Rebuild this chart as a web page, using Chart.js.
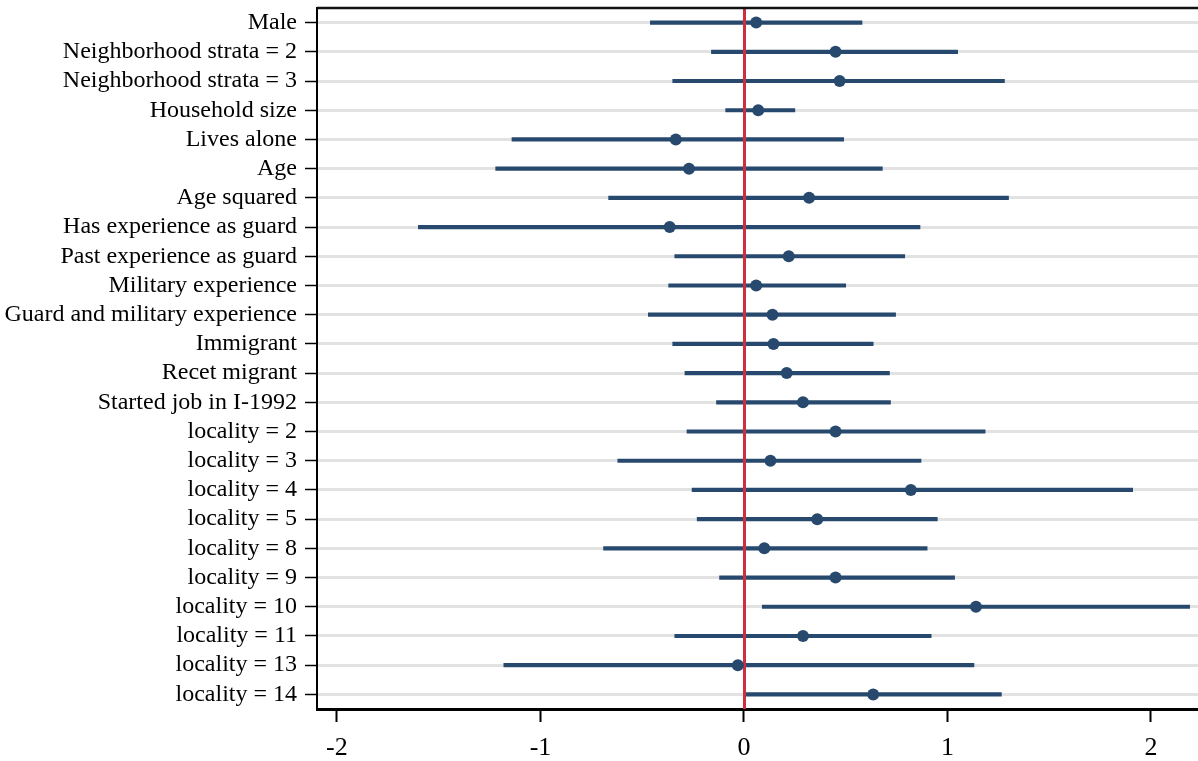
<!DOCTYPE html>
<html>
<head>
<meta charset="utf-8">
<script src="https://cdn.jsdelivr.net/npm/chart.js@4"></script>
<style>
  body { margin: 0; background: #fff; }
  #wrap { width: 1198px; height: 761px; position: relative; }
</style>
</head>
<body>
<div id="wrap"><canvas id="coefChart"></canvas></div>
<script>
// 变量名称
const labels = [
    "Male", "Neighborhood strata = 2", "Neighborhood strata = 3", "Household size",
    "Lives alone", "Age", "Age squared", "Has experience as guard",
    "Past experience as guard", "Military experience", "Guard and military experience",
    "Immigrant", "Recet migrant", "Started job in I-1992",
    "locality = 2", "locality = 3", "locality = 4", "locality = 5", "locality = 8",
    "locality = 9", "locality = 10", "locality = 11", "locality = 13", "locality = 14"
];

// 点估计
const estimates = [
    0.06, 0.45, 0.47, 0.07, -0.335, -0.27, 0.32, -0.365,
    0.22, 0.06, 0.14, 0.145, 0.21, 0.29,
    0.45, 0.13, 0.82, 0.36, 0.10, 0.45, 1.14, 0.29, -0.03, 0.635
];

// 置信区间下限 / 上限
const lower = [
    -0.46, -0.16, -0.35, -0.09, -1.14, -1.22, -0.665, -1.60,
    -0.34, -0.37, -0.47, -0.35, -0.29, -0.135,
    -0.28, -0.62, -0.255, -0.23, -0.69, -0.12, 0.09, -0.34, -1.18, 0.0
];
const upper = [
    0.58, 1.05, 1.28, 0.25, 0.49, 0.68, 1.30, 0.865,
    0.79, 0.50, 0.745, 0.635, 0.715, 0.72,
    1.185, 0.87, 1.91, 0.95, 0.90, 1.035, 2.19, 0.92, 1.13, 1.265
];

const xTicks = [-2, -1, 0, 1, 2];
const xMin = -2.098;
const xMax = 2.231;

const navy = '#28496e';
const serif = "'Liberation Serif', 'Times New Roman', serif";

// 零线 (画在置信区间之上、点之下) + 顶部边框
const refLinePlugin = {
    id: 'refLine',
    afterDatasetDraw(chart, args) {
        if (args.index !== 0) return;
        const { ctx, chartArea, scales } = chart;
        const x0 = Math.round(scales.x.getPixelForValue(0));
        ctx.save();
        ctx.strokeStyle = '#cc2f3d';
        ctx.lineWidth = 3;
        ctx.beginPath();
        ctx.moveTo(x0 + 0.5, chartArea.top);
        ctx.lineTo(x0 + 0.5, chartArea.bottom);
        ctx.stroke();
        ctx.restore();
    },
    afterDraw(chart) {
        const { ctx, chartArea } = chart;
        ctx.save();
        ctx.strokeStyle = '#111';
        ctx.lineWidth = 2.5;
        ctx.beginPath();
        ctx.moveTo(chartArea.left, chartArea.top);
        ctx.lineTo(chartArea.right, chartArea.top);
        ctx.stroke();
        ctx.restore();
    }
};

const ctx = document.getElementById('coefChart').getContext('2d');
new Chart(ctx, {
    type: 'bar',
    data: {
        labels: labels,
        datasets: [
            {
                label: '95% CI',
                data: lower.map((lo, i) => [lo, upper[i]]),
                backgroundColor: navy,
                barThickness: 3.5,
                borderWidth: 0,
                order: 1
            },
            {
                type: 'line',
                label: 'Estimate',
                data: estimates,
                showLine: false,
                pointStyle: 'circle',
                pointRadius: 6,
                pointBackgroundColor: navy,
                pointBorderColor: navy,
                pointBorderWidth: 0,
                order: 0
            }
        ]
    },
    options: {
        indexAxis: 'y',
        responsive: true,
        maintainAspectRatio: false,
        animation: false,
        layout: { autoPadding: false, padding: { top: 8, right: 0, left: 0, bottom: 0 } },
        plugins: {
            legend: { display: false },
            tooltip: { enabled: false }
        },
        scales: {
            x: {
                type: 'linear',
                min: xMin,
                max: xMax,
                afterBuildTicks: (scale) => {
                    scale.ticks = xTicks.map(v => ({ value: v }));
                },
                afterFit: (scale) => {
                    scale.height = 52;
                    scale.paddingLeft = 0;
                    scale.paddingRight = 0;
                },
                border: { display: true, color: '#000', width: 3 },
                grid: {
                    drawOnChartArea: false,
                    drawTicks: true,
                    tickLength: 13,
                    tickColor: '#000',
                    tickWidth: 2
                },
                ticks: {
                    color: '#000',
                    font: { family: serif, size: 26 },
                    padding: 11,
                    maxRotation: 0
                }
            },
            y: {
                type: 'category',
                offset: true,
                afterFit: (scale) => {
                    scale.width = 317;
                    scale.paddingTop = 0;
                    scale.paddingBottom = 0;
                },
                border: { display: true, color: '#000', width: 2 },
                grid: {
                    offset: false,
                    color: '#e2e2e2',
                    lineWidth: 3,
                    drawTicks: true,
                    tickLength: 12,
                    tickColor: '#000',
                    tickWidth: 1.5
                },
                ticks: {
                    color: '#000',
                    font: { family: serif, size: 24 },
                    padding: 8,
                    autoSkip: false
                }
            }
        }
    },
    plugins: [refLinePlugin]
});
</script>
</body>
</html>
